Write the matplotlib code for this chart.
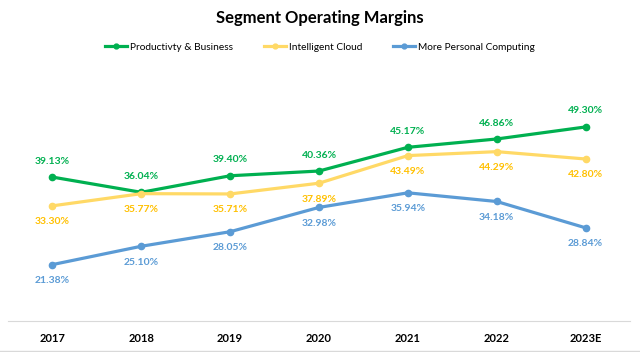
import matplotlib.pyplot as plt
from matplotlib.lines import Line2D

years = ["2017", "2018", "2019", "2020", "2021", "2022", "2023E"]
productivity = [39.13, 36.04, 39.40, 40.36, 45.17, 46.86, 49.30]
cloud = [33.30, 35.77, 35.71, 37.89, 43.49, 44.29, 42.80]
personal = [21.38, 25.10, 28.05, 32.98, 35.94, 34.18, 28.84]

series = [
    ("Productivty & Business", productivity, "#00B050", "#00B050", 1),
    ("Intelligent Cloud", cloud, "#FFD966", "#FFC000", -1),
    ("More Personal Computing", personal, "#5B9BD5", "#5B9BD5", -1),
]

plt.rcParams['font.family'] = ['Lato', 'DejaVu Sans']

fig = plt.figure(figsize=(6.4, 3.52), dpi=100)
ax = fig.add_axes([8 / 640, 1 - 320.7 / 352, 622 / 640, 246.5 / 352])

x = range(len(years))
for name, vals, col, lcol, side in series:
    ax.plot(x, vals, color=col, lw=2.3, marker="o", ms=4.5, label=name,
            solid_capstyle="round")
    for i, v in enumerate(vals):
        ax.annotate("{:.2f}%".format(v), (i, v), xytext=(0, 11.5 * side),
                    textcoords="offset points", ha="center", va="center",
                    fontsize=7.5, fontweight="bold", color=lcol)

ax.set_xlim(-0.5, len(years) - 0.5)
ax.set_ylim(10, 60)
ax.set_yticks([])
ax.set_xticks(list(x))
ax.set_xticklabels(years, fontsize=8, fontweight="bold")
ax.tick_params(axis="x", length=0, pad=9)
for s in ["top", "left", "right"]:
    ax.spines[s].set_visible(False)
ax.spines["bottom"].set_color("#D9D9D9")

fig.text(0.5, 1 - 18 / 352, "Segment Operating Margins", ha="center",
         va="center", fontsize=12, fontweight="bold")

handles = [Line2D([0], [0], color=c, lw=2.3, marker="o", ms=3.5)
           for _, _, c, _, _ in series]
fig.legend(handles, [s[0] for s in series], loc="center",
           bbox_to_anchor=(0.5, 1 - 47 / 352), ncol=3, frameon=False,
           fontsize=7.3, handlelength=2.2, handletextpad=0.3, columnspacing=3)

fig.add_artist(Line2D([0, 1], [1 - 350.7 / 352] * 2, color="#D9D9D9", lw=1))

fig.savefig("out.png", dpi=100)
